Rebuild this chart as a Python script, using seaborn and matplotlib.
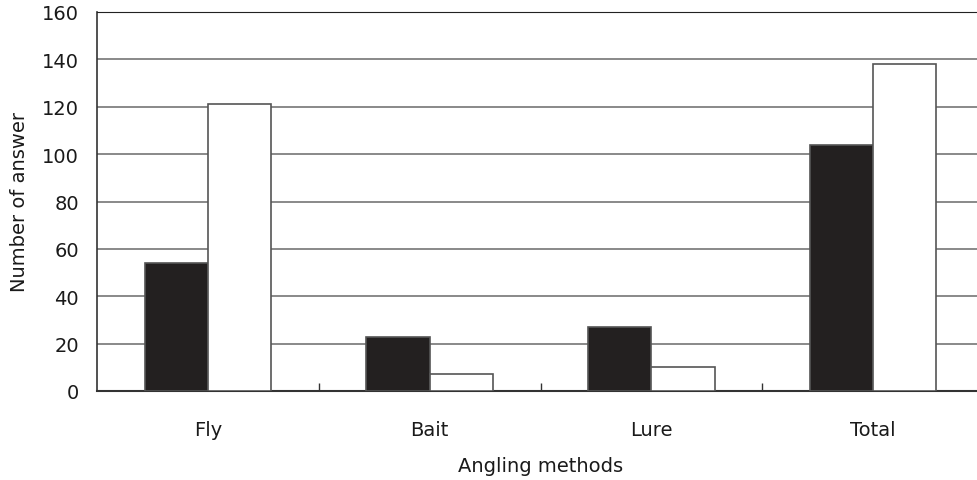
import pandas as pd
import seaborn as sns
import matplotlib.pyplot as plt
from matplotlib.ticker import FixedLocator

# data
methods = ["Fly", "Bait", "Lure", "Total"]
series_a = [54, 23, 27, 104]   # black bars
series_b = [121, 7, 10, 138]   # white bars
yticks = [0, 20, 40, 60, 80, 100, 120, 140, 160]

df = pd.DataFrame({
    "method": methods * 2,
    "group": ["A"] * len(methods) + ["B"] * len(methods),
    "value": series_a + series_b,
})

sns.set_style("white")
plt.rcParams["font.family"] = ["DejaVu Sans"]

fig = plt.figure(figsize=(9.77, 4.81), dpi=100)
ax = fig.add_axes([97 / 977, 89 / 481, 887 / 977, 379 / 481])

sns.barplot(data=df, x="method", y="value", hue="group", order=methods,
            palette={"A": "#231f20", "B": "#ffffff"}, width=0.57, gap=0,
            edgecolor="#555555", linewidth=1.2, legend=False, ax=ax, zorder=3)

ax.set_ylim(0, 160)
ax.set_xlim(-0.5, 3.5)
ax.set_yticks(yticks)
ax.yaxis.grid(True, color="#6a6a6a", linewidth=1.1, zorder=0)
ax.set_axisbelow(True)

ax.spines["right"].set_visible(False)
ax.spines["top"].set_color("#222222")
ax.spines["left"].set_color("#333333")
ax.spines["bottom"].set_color("#333333")
ax.spines["left"].set_linewidth(1.2)
ax.spines["bottom"].set_linewidth(1.5)

# boundary ticks between categories, pointing inward
ax.xaxis.set_minor_locator(FixedLocator([0.5, 1.5, 2.5]))
ax.tick_params(axis="x", which="minor", bottom=True, direction="in", length=6, width=1,
               color="#333333")
ax.tick_params(axis="x", which="major", bottom=True, length=0, pad=21, labelsize=14,
               labelcolor="#1a1a1a")
ax.tick_params(axis="y", which="major", direction="in", length=4, pad=13, labelsize=14,
               labelcolor="#1a1a1a")

ax.set_xlabel("Angling methods", fontsize=14, color="#1a1a1a", labelpad=12)
ax.set_ylabel("Number of answer", fontsize=14, color="#1a1a1a", labelpad=9)

fig.savefig("out.png", dpi=100)
